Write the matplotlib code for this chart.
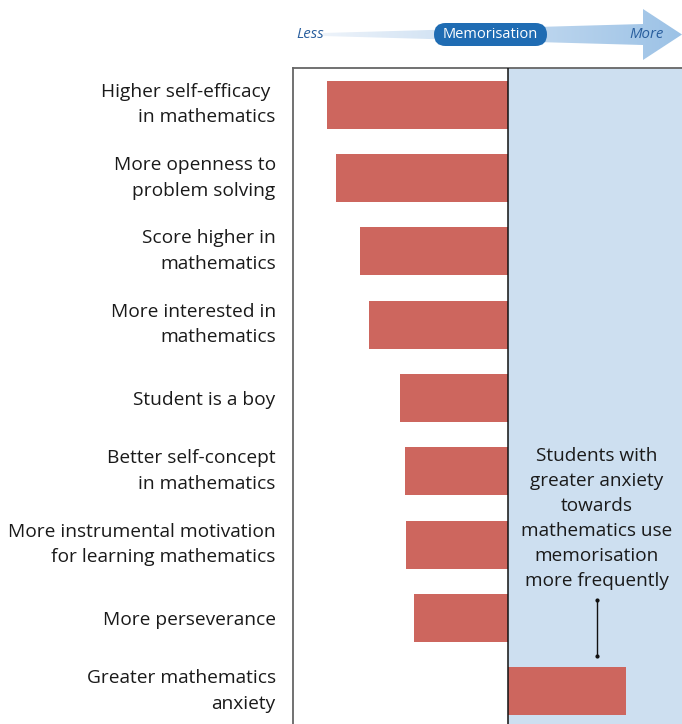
import matplotlib
matplotlib.use("Agg")
import matplotlib.pyplot as plt
import matplotlib.transforms as mtransforms
import numpy as np
from matplotlib.patches import Polygon, FancyBboxPatch
from matplotlib.colors import LinearSegmentedColormap

categories = [
    "Higher self-efficacy \nin mathematics",
    "More openness to\nproblem solving",
    "Score higher in\nmathematics",
    "More interested in\nmathematics",
    "Student is a boy",
    "Better self-concept\nin mathematics",
    "More instrumental motivation\nfor learning mathematics",
    "More perseverance",
    "Greater mathematics\nanxiety",
]
values = [-1.81, -1.72, -1.48, -1.39, -1.08, -1.03, -1.02, -0.94, 1.18]

note = "Students with\ngreater anxiety\ntowards\nmathematics use\nmemorisation\nmore frequently"

W, H = 682, 724
plt.rcParams['font.family'] = ['Open Sans', 'DejaVu Sans']
fig = plt.figure(figsize=(W / 100, H / 100), dpi=100)

left_px, right_px, top_px, bot_px = 293, 684, 68, 728
ax = fig.add_axes([left_px / W, 1 - bot_px / H, (right_px - left_px) / W, (bot_px - top_px) / H])
ax.set_xlim(-2.15, 1.76)
ax.set_ylim(8.5, -0.5)
ax.axvspan(0, 1.76, color="#cddff0", zorder=0, lw=0)
y = np.arange(len(categories))
ax.barh(y, values, height=0.655, color="#cd665e", zorder=2)
ax.axvline(0, color="#111111", lw=1.1, zorder=3)
for s in ["right", "bottom"]:
    ax.spines[s].set_visible(False)
for s in ["top", "left"]:
    ax.spines[s].set_color("#666666")
    ax.spines[s].set_linewidth(1.3)
ax.set_xticks([])
ax.set_yticks(y)
ax.set_yticklabels(categories, fontsize=13.8, color="#1a1a1a", linespacing=1.55)
ax.tick_params(axis="y", length=0, pad=12.5)
shift = mtransforms.ScaledTranslation(0, 6 / 100, fig.dpi_scale_trans)
for lbl in ax.get_yticklabels():
    lbl.set_horizontalalignment("right")
    lbl.set_multialignment("right")
    if "\n" in lbl.get_text():
        lbl.set_transform(lbl.get_transform() + shift)

ax.text(0.89, 5.64, note, ha="center", va="center", fontsize=13.7, color="#1a1a1a", linespacing=1.5)
ax.plot([0.89, 0.89], [6.75, 7.52], "-", color="#111111", lw=1)
ax.plot([0.89, 0.89], [6.75, 7.52], "o", color="#111111", ms=2)

# header with gradient arrow
hx = fig.add_axes([0, 0, 1, 1], zorder=5)
hx.set_xlim(0, W)
hx.set_ylim(H, 0)
hx.axis("off")
hx.patch.set_alpha(0)
pts = [(323, 33), (643, 24), (643, 9), (682, 34.5), (643, 60), (643, 45), (323, 36)]
poly = Polygon(pts, closed=True, facecolor="none", edgecolor="none")
hx.add_patch(poly)
cmap = LinearSegmentedColormap.from_list("g", ["#edf3fa", "#9cc2e6"])
grad = np.linspace(0, 1, 256).reshape(1, -1)
im = hx.imshow(grad, extent=(323, 682, 60, 9), cmap=cmap, aspect="auto", zorder=1)
im.set_clip_path(poly)
hx.set_xlim(0, W)
hx.set_ylim(H, 0)
pill = FancyBboxPatch((434, 23), 113, 23, boxstyle="round,pad=0,rounding_size=11.5",
                      facecolor="#1f6cb3", edgecolor="none", zorder=3)
hx.add_patch(pill)
hx.text(490.5, 34.5, "Memorisation", ha="center", va="center", color="white", fontsize=10.5, zorder=4)
hx.text(310, 34.5, "Less", ha="center", va="center", color="#2a5f9e", fontsize=10.8, style="italic", zorder=4)
hx.text(646.5, 34.5, "More", ha="center", va="center", color="#2a5f9e", fontsize=10.8, style="italic", zorder=4)

fig.savefig("out.png", dpi=100)
